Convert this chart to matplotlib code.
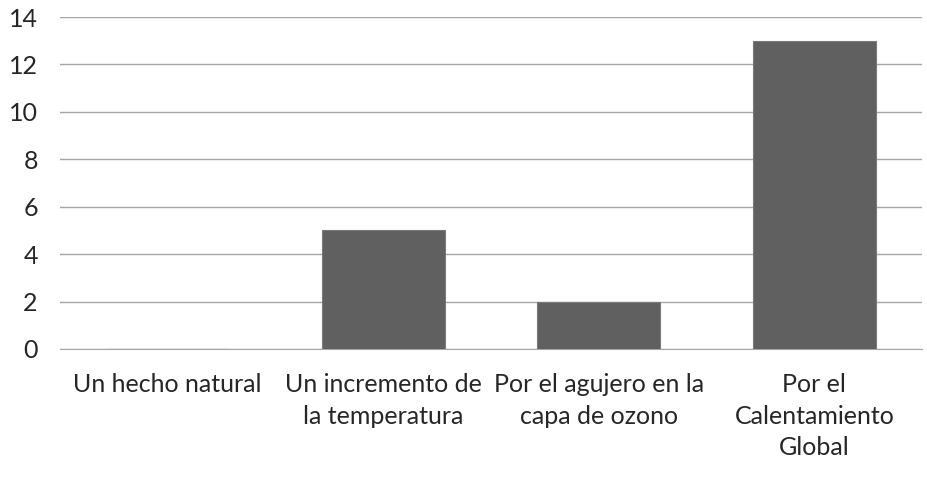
import matplotlib
matplotlib.use("Agg")
import matplotlib.pyplot as plt
import numpy as np

categories = ["Un hecho natural", "Un incremento de\nla temperatura",
              "Por el agujero en la\ncapa de ozono", "Por el\nCalentamiento\nGlobal"]
values = [0, 5, 2, 13]
yticks = [0, 2, 4, 6, 8, 10, 12, 14]

plt.rcParams["font.family"] = ["Lato", "DejaVu Sans"]

fig = plt.figure(figsize=(9.27, 4.79), dpi=100)
ax = fig.add_axes([0.0647, 0.2714, 0.93, 0.6931])

x = np.arange(len(categories))
ax.bar(x, values, width=0.57, color="#606060", edgecolor="#7a7a7a", linewidth=0.8, zorder=3)

ax.set_xlim(-0.5, len(categories) - 0.5)
ax.set_ylim(0, 14)
ax.set_yticks(yticks)
ax.yaxis.grid(True, color="#a6a6a6", linewidth=1.0, zorder=0)
ax.set_axisbelow(True)
for s in ["top", "right", "left"]:
    ax.spines[s].set_visible(False)
ax.spines["bottom"].set_color("#a6a6a6")
ax.tick_params(axis="both", length=0, labelsize=18, colors="#262626")
ax.tick_params(axis="y", pad=16)
ax.tick_params(axis="x", pad=17)
ax.set_xticks(x)
ax.set_xticklabels(categories, linespacing=1.47)

fig.savefig("out.png", dpi=100)
